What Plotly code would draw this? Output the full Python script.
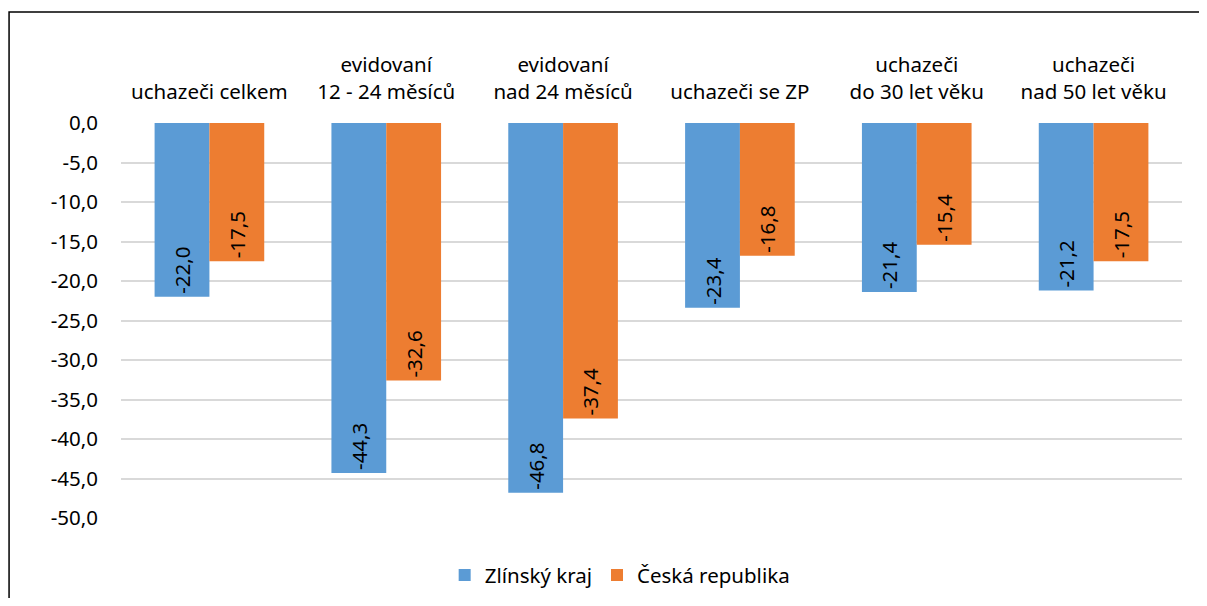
import plotly.graph_objects as go

categories = [
    "uchazeči celkem",
    "evidovaní<br>12 - 24 měsíců",
    "evidovaní<br>nad 24 měsíců",
    "uchazeči se ZP",
    "uchazeči<br>do 30 let věku",
    "uchazeči<br>nad 50 let věku",
]
zlin = [-22.0, -44.3, -46.8, -23.4, -21.4, -21.2]
cr = [-17.5, -32.6, -37.4, -16.8, -15.4, -17.5]
y_ticks = [0, -5, -10, -15, -20, -25, -30, -35, -40, -45, -50]

FONT = "Noto Sans"
FS = 20.5

fig = go.Figure()
for name, vals, color in [("Zlínský kraj", zlin, "#5B9BD5"),
                          ("Česká republika", cr, "#ED7D31")]:
    fig.add_trace(go.Bar(
        x=categories, y=vals, name=name,
        marker={"color": color, "line": {"width": 0}},
        texttemplate="%{y:.1f}", textposition="inside",
        insidetextanchor="end", textangle=-90,
        textfont={"family": FONT, "size": FS, "color": "#000000"},
        hoverinfo="skip",
    ))

# page body adds an 8px margin, so the figure is kept inside the window;
# chart frame: only its left and top edges fall inside the picture
fig.update_layout(
    width=1191, height=590,
    barmode="group", bargap=0.38, bargroupgap=0,
    separators=", ",
    plot_bgcolor="white", paper_bgcolor="white",
    font={"family": FONT, "size": FS, "color": "#000000"},
    margin={"l": 113, "r": 17, "t": 115, "b": 80, "autoexpand": False},
    showlegend=True,
    legend={"orientation": "h", "x": 0.47, "xanchor": "center",
            "y": -0.145, "yanchor": "middle",
            "font": {"family": FONT, "size": FS}},
    shapes=[{"type": "path", "xref": "paper", "yref": "paper",
             "path": "M -0.1055,-0.4 L -0.1055,1.281 L 1.1,1.281",
             "line": {"color": "#000000", "width": 1.5}}],
)
fig.update_xaxes(side="top", showgrid=False, showline=False, ticks="",
                 automargin=False, ticklabelstandoff=19,
                 tickfont={"family": FONT, "size": FS})
fig.update_yaxes(range=[-50, 0], tickvals=y_ticks,
                 ticktext=[f"{v:.1f}".replace(".", ",") for v in y_ticks],
                 showgrid=True, gridcolor="#D9D9D9", gridwidth=1.5,
                 zeroline=False, showline=False, ticks="",
                 automargin=False, ticklabelstandoff=22,
                 tickfont={"family": FONT, "size": FS})

fig.write_html("out.html")
